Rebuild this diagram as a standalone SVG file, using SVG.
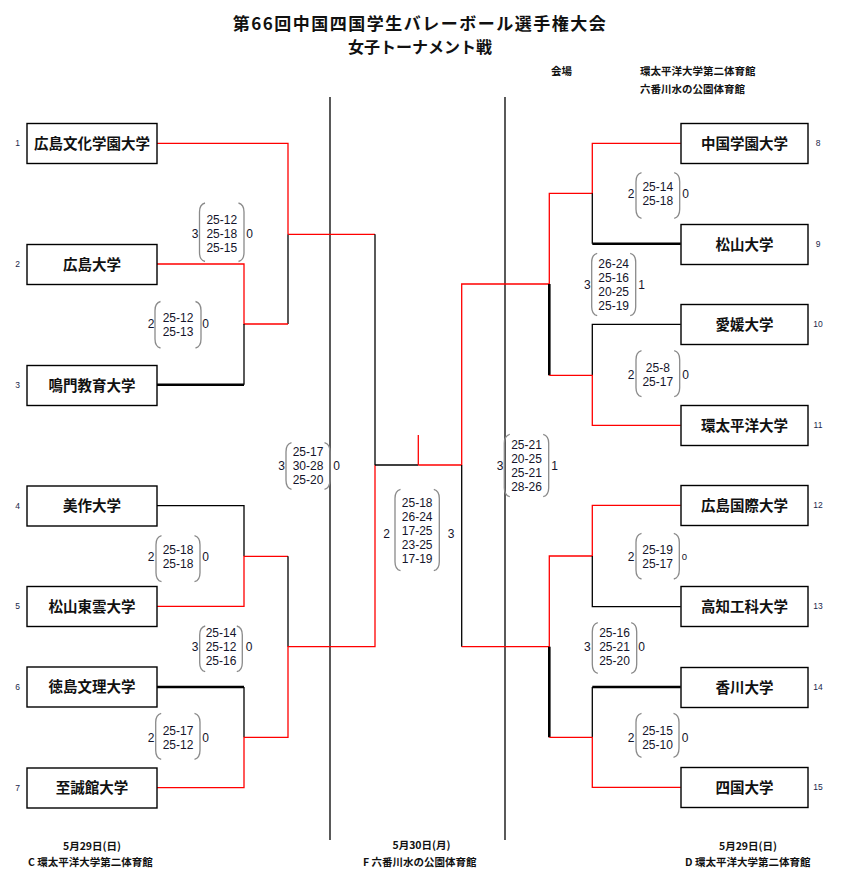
<svg xmlns="http://www.w3.org/2000/svg" width="843" height="876" viewBox="0 0 843 876">
<style>
.bg{fill:#fff}
.box{fill:#fff;stroke:#000;stroke-width:1.4}
.name{font-family:"Noto Sans CJK JP","Liberation Sans",sans-serif;font-weight:bold;font-size:14.5px;text-anchor:middle;fill:#111}
.num{font-family:"Liberation Sans",sans-serif;font-size:8.5px;text-anchor:middle;fill:#1a1f4a}
.r{stroke:#ff0000;stroke-width:1.3;fill:none}
.k{stroke:#000;stroke-width:1.3;fill:none}
.kt{stroke:#000;stroke-width:2.6;fill:none}
.par{fill:none;stroke:#8a8a8a;stroke-width:1.3}
.sc{font-family:"Liberation Sans",sans-serif;font-size:12px;text-anchor:middle;fill:#14142a}
.t1{font-family:"Noto Sans CJK JP",sans-serif;font-weight:bold;text-anchor:middle;fill:#111}
.sm{font-family:"Noto Sans CJK JP",sans-serif;font-weight:bold;font-size:10.5px;fill:#111}
</style>
<rect class="bg" x="0" y="0" width="843" height="876"/>

<g id="title">
<text class="t1" x="420" y="30" style="font-size:17px;letter-spacing:1.5px">第66回中国四国学生バレーボール選手権大会</text>
<text class="t1" x="420" y="53" style="font-size:16px">女子トーナメント戦</text>
<text class="sm" x="551" y="75">会場</text>
<text class="sm" x="640" y="75">環太平洋大学第二体育館</text>
<text class="sm" x="640" y="93">六番川水の公園体育館</text>
</g>

<g id="connectors">
<line class="k" x1="330" y1="97" x2="330" y2="840"/>
<line class="k" x1="505" y1="97" x2="505" y2="840"/>
<polyline class="r" points="157,143.3 288,143.3 288,234.3"/>
<line class="k" x1="288" y1="234.3" x2="288" y2="324"/>
<polyline class="r" points="157,264 244,264 244,324 288,324"/>
<line class="k" x1="244" y1="324" x2="244" y2="384.7"/>
<line class="kt" x1="157" y1="384.7" x2="244" y2="384.7"/>
<line class="r" x1="288" y1="234.3" x2="375" y2="234.3"/>
<line class="k" x1="375" y1="234.3" x2="375" y2="465"/>
<polyline class="k" points="157,505.7 244,505.7 244,556.3"/>
<polyline class="r" points="288,556.3 244,556.3 244,606.3 157,606.3"/>
<line class="k" x1="288" y1="556.3" x2="288" y2="646.7"/>
<line class="kt" x1="157" y1="687" x2="244" y2="687"/>
<line class="k" x1="244" y1="687" x2="244" y2="737.3"/>
<polyline class="r" points="157,787.7 244,787.7 244,737.3 288,737.3 288,646.7 375,646.7 375,465"/>
<line class="k" x1="375" y1="465" x2="418.3" y2="465"/>
<line class="r" x1="418.3" y1="465" x2="461.7" y2="465"/>
<line class="r" x1="418.3" y1="435" x2="418.3" y2="465"/>
<polyline class="r" points="461.7,465 461.7,284 549.3,284 549.3,193.3 592.3,193.3 592.3,143.3 680.7,143.3"/>
<line class="k" x1="461.7" y1="465" x2="461.7" y2="646.7"/>
<line class="kt" x1="549.3" y1="284" x2="549.3" y2="375.3"/>
<line class="k" x1="592.3" y1="193.3" x2="592.3" y2="243.7"/>
<line class="kt" x1="592.3" y1="243.7" x2="680.7" y2="243.7"/>
<polyline class="k" points="592.3,375.3 592.3,324.3 680.7,324.3"/>
<polyline class="r" points="549.3,375.3 592.3,375.3 592.3,425.3 680.7,425.3"/>
<polyline class="r" points="461.7,646.7 549.3,646.7 549.3,556 592.3,556 592.3,505.3 680.7,505.3"/>
<line class="kt" x1="549.3" y1="646.7" x2="549.3" y2="737.3"/>
<polyline class="k" points="592.3,556 592.3,606.7 680.7,606.7"/>
<line class="k" x1="592.3" y1="737.3" x2="592.3" y2="687"/>
<line class="kt" x1="592.3" y1="687" x2="680.7" y2="687"/>
<polyline class="r" points="549.3,737.3 592.3,737.3 592.3,787.3 680.7,787.3"/>
</g>

<g id="team1"><rect class="box" x="27" y="123.5" width="130" height="40"/><text class="name" x="92" y="148.5">広島文化学園大学</text><text class="num" x="17.5" y="146.3">1</text></g>
<g id="team2"><rect class="box" x="27" y="244.5" width="130" height="40"/><text class="name" x="92" y="269.5">広島大学</text><text class="num" x="17.5" y="267.3">2</text></g>
<g id="team3"><rect class="box" x="27" y="365.5" width="130" height="40"/><text class="name" x="92" y="390.5">鳴門教育大学</text><text class="num" x="17.5" y="388.3">3</text></g>
<g id="team4"><rect class="box" x="27" y="486" width="130" height="40"/><text class="name" x="92" y="511">美作大学</text><text class="num" x="17.5" y="508.8">4</text></g>
<g id="team5"><rect class="box" x="27" y="586.5" width="130" height="40"/><text class="name" x="92" y="611.5">松山東雲大学</text><text class="num" x="17.5" y="609.3">5</text></g>
<g id="team6"><rect class="box" x="27" y="667" width="130" height="40"/><text class="name" x="92" y="692">徳島文理大学</text><text class="num" x="17.5" y="689.8">6</text></g>
<g id="team7"><rect class="box" x="27" y="768" width="130" height="40"/><text class="name" x="92" y="793">至誠館大学</text><text class="num" x="17.5" y="790.8">7</text></g>

<g id="team8"><rect class="box" x="681" y="123.5" width="127" height="40"/><text class="name" x="744.5" y="148.5">中国学園大学</text><text class="num" x="818" y="146.3">8</text></g>
<g id="team9"><rect class="box" x="681" y="224.5" width="127" height="40"/><text class="name" x="744.5" y="249.5">松山大学</text><text class="num" x="818" y="247.3">9</text></g>
<g id="team10"><rect class="box" x="681" y="304.5" width="127" height="40"/><text class="name" x="744.5" y="329.5">愛媛大学</text><text class="num" x="818" y="327.3">10</text></g>
<g id="team11"><rect class="box" x="681" y="405.5" width="127" height="40"/><text class="name" x="744.5" y="430.5">環太平洋大学</text><text class="num" x="818" y="428.3">11</text></g>
<g id="team12"><rect class="box" x="681" y="485.5" width="127" height="40"/><text class="name" x="744.5" y="510.5">広島国際大学</text><text class="num" x="818" y="508.3">12</text></g>
<g id="team13"><rect class="box" x="681" y="586.5" width="127" height="40"/><text class="name" x="744.5" y="611.5">高知工科大学</text><text class="num" x="818" y="609.3">13</text></g>
<g id="team14"><rect class="box" x="681" y="667.5" width="127" height="40"/><text class="name" x="744.5" y="692.5">香川大学</text><text class="num" x="818" y="690.3">14</text></g>
<g id="team15"><rect class="box" x="681" y="767.5" width="127" height="40"/><text class="name" x="744.5" y="792.5">四国大学</text><text class="num" x="818" y="790.3">15</text></g>

<g id="scores">
<path class="par" d="M205,203 C201,204 199.5,207 199.5,212 L199.5,252.5 C199.5,257.5 201,260.5 205,261.5 M238.5,203 C242.5,204 244,207 244,212 L244,252.5 C244,257.5 242.5,260.5 238.5,261.5"/>
<text class="sc" x="195" y="238.3">3</text><text class="sc" x="221.8" y="224.3">25-12</text><text class="sc" x="221.8" y="238.3">25-18</text><text class="sc" x="221.8" y="252.3">25-15</text><text class="sc" x="249.5" y="238.3">0</text>
<path class="par" d="M160.5,301.5 C156.5,302.5 155,305.5 155,310.5 L155,339 C155,344 156.5,347 160.5,348 M195.5,301.5 C199.5,302.5 201,305.5 201,310.5 L201,339 C201,344 199.5,347 195.5,348"/>
<text class="sc" x="151" y="328.3">2</text><text class="sc" x="178" y="322">25-12</text><text class="sc" x="178" y="336">25-13</text><text class="sc" x="205.5" y="328.3">0</text>
<path class="par" d="M161.5,535.7 C157.5,536.7 156,539.7 156,544.7 L156,572.7 C156,577.7 157.5,580.7 161.5,581.7 M194.5,535.7 C198.5,536.7 200,539.7 200,544.7 L200,572.7 C200,577.7 198.5,580.7 194.5,581.7"/>
<text class="sc" x="151" y="561">2</text><text class="sc" x="178" y="554">25-18</text><text class="sc" x="178" y="568">25-18</text><text class="sc" x="205.5" y="561">0</text>
<path class="par" d="M205.2,626 C201.2,627 199.7,630 199.7,635 L199.7,662.7 C199.7,667.7 201.2,670.7 205.2,671.7 M236.8,626 C240.8,627 242.3,630 242.3,635 L242.3,662.7 C242.3,667.7 240.8,670.7 236.8,671.7"/>
<text class="sc" x="195" y="651">3</text><text class="sc" x="221" y="636.6">25-14</text><text class="sc" x="221" y="651">25-12</text><text class="sc" x="221" y="665">25-16</text><text class="sc" x="249" y="651">0</text>
<path class="par" d="M161.2,713.3 C157.2,714.3 155.7,717.3 155.7,722.3 L155.7,750.3 C155.7,755.3 157.2,758.3 161.2,759.3 M194.5,713.3 C198.5,714.3 200,717.3 200,722.3 L200,750.3 C200,755.3 198.5,758.3 194.5,759.3"/>
<text class="sc" x="151" y="742">2</text><text class="sc" x="178" y="735">25-17</text><text class="sc" x="178" y="749">25-12</text><text class="sc" x="205.5" y="742">0</text>
<path class="par" d="M291.5,442.7 C287.5,443.7 286,446.7 286,451.7 L286,480.3 C286,485.3 287.5,488.3 291.5,489.3 M324.5,442.7 C328.5,443.7 330,446.7 330,451.7 L330,480.3 C330,485.3 328.5,488.3 324.5,489.3"/>
<text class="sc" x="281.7" y="470">3</text><text class="sc" x="308" y="456">25-17</text><text class="sc" x="308" y="470">30-28</text><text class="sc" x="308" y="484.3">25-20</text><text class="sc" x="336.5" y="470">0</text>
<path class="par" d="M400.5,489.3 C396.5,490.3 395,493.3 395,498.3 L395,561.7 C395,566.7 396.5,569.7 400.5,570.7 M433.8,489.3 C437.8,490.3 439.3,493.3 439.3,498.3 L439.3,561.7 C439.3,566.7 437.8,569.7 433.8,570.7"/>
<text class="sc" x="386.7" y="537.6">2</text><text class="sc" x="417.2" y="507">25-18</text><text class="sc" x="417.2" y="521">26-24</text><text class="sc" x="417.2" y="535">17-25</text><text class="sc" x="417.2" y="549">23-25</text><text class="sc" x="417.2" y="563">17-19</text><text class="sc" x="451" y="537.6">3</text>
<path class="par" d="M509.8,434.3 C505.8,435.3 504.3,438.3 504.3,443.3 L504.3,487.7 C504.3,492.7 505.8,495.7 509.8,496.7 M543.2,434.3 C547.2,435.3 548.7,438.3 548.7,443.3 L548.7,487.7 C548.7,492.7 547.2,495.7 543.2,496.7"/>
<text class="sc" x="500" y="470">3</text><text class="sc" x="526.5" y="449.3">25-21</text><text class="sc" x="526.5" y="463.3">20-25</text><text class="sc" x="526.5" y="477.3">25-21</text><text class="sc" x="526.5" y="491">28-26</text><text class="sc" x="554.5" y="470">1</text>
<path class="par" d="M641.5,172.7 C637.5,173.7 636,176.7 636,181.7 L636,209.3 C636,214.3 637.5,217.3 641.5,218.3 M674.2,172.7 C678.2,173.7 679.7,176.7 679.7,181.7 L679.7,209.3 C679.7,214.3 678.2,217.3 674.2,218.3"/>
<text class="sc" x="631" y="197.6">2</text><text class="sc" x="657.8" y="191">25-14</text><text class="sc" x="657.8" y="205">25-18</text><text class="sc" x="685.5" y="197.6">0</text>
<path class="par" d="M597.2,253.3 C593.2,254.3 591.7,257.3 591.7,262.3 L591.7,306.7 C591.7,311.7 593.2,314.7 597.2,315.7 M630.2,253.3 C634.2,254.3 635.7,257.3 635.7,262.3 L635.7,306.7 C635.7,311.7 634.2,314.7 630.2,315.7"/>
<text class="sc" x="587.3" y="289">3</text><text class="sc" x="613.7" y="268.3">26-24</text><text class="sc" x="613.7" y="282">25-16</text><text class="sc" x="613.7" y="296">20-25</text><text class="sc" x="613.7" y="310">25-19</text><text class="sc" x="641.5" y="289">1</text>
<path class="par" d="M641.5,350.7 C637.5,351.7 636,354.7 636,359.7 L636,387.7 C636,392.7 637.5,395.7 641.5,396.7 M674.2,350.7 C678.2,351.7 679.7,354.7 679.7,359.7 L679.7,387.7 C679.7,392.7 678.2,395.7 674.2,396.7"/>
<text class="sc" x="631" y="379.3">2</text><text class="sc" x="657.8" y="372">25-8</text><text class="sc" x="657.8" y="386">25-17</text><text class="sc" x="685.5" y="379.3">0</text>
<path class="par" d="M641.5,533.3 C637.5,534.3 636,537.3 636,542.3 L636,570 C636,575 637.5,578 641.5,579 M673.8,533.3 C677.8,534.3 679.3,537.3 679.3,542.3 L679.3,570 C679.3,575 677.8,578 673.8,579"/>
<text class="sc" x="631" y="561">2</text><text class="sc" x="657.6" y="554.3">25-19</text><text class="sc" x="657.6" y="568">25-17</text><text class="sc" x="684.5" y="560" style="font-size:9.5px">0</text>
<path class="par" d="M597.8,622.7 C593.8,623.7 592.3,626.7 592.3,631.7 L592.3,664.3 C592.3,669.3 593.8,672.3 597.8,673.3 M631.2,622.7 C635.2,623.7 636.7,626.7 636.7,631.7 L636.7,664.3 C636.7,669.3 635.2,672.3 631.2,673.3"/>
<text class="sc" x="587.3" y="651">3</text><text class="sc" x="614.5" y="637">25-16</text><text class="sc" x="614.5" y="651">25-21</text><text class="sc" x="614.5" y="665.3">25-20</text><text class="sc" x="641.5" y="651">0</text>
<path class="par" d="M641.5,713.3 C637.5,714.3 636,717.3 636,722.3 L636,748.3 C636,753.3 637.5,756.3 641.5,757.3 M673.5,713.3 C677.5,714.3 679,717.3 679,722.3 L679,748.3 C679,753.3 677.5,756.3 673.5,757.3"/>
<text class="sc" x="631" y="741.6">2</text><text class="sc" x="657.5" y="735">25-15</text><text class="sc" x="657.5" y="749">25-10</text><text class="sc" x="685" y="741.6">0</text>
</g>

<g id="footer">
<text class="sm" x="92" y="850" text-anchor="middle">5月29日(日)</text>
<text class="sm" x="28" y="866">C 環太平洋大学第二体育館</text>
<text class="sm" x="421.5" y="849" text-anchor="middle">5月30日(月)</text>
<text class="sm" x="363" y="866">F 六番川水の公園体育館</text>
<text class="sm" x="748" y="850" text-anchor="middle">5月29日(日)</text>
<text class="sm" x="685" y="866">D 環太平洋大学第二体育館</text>
</g>
</svg>
